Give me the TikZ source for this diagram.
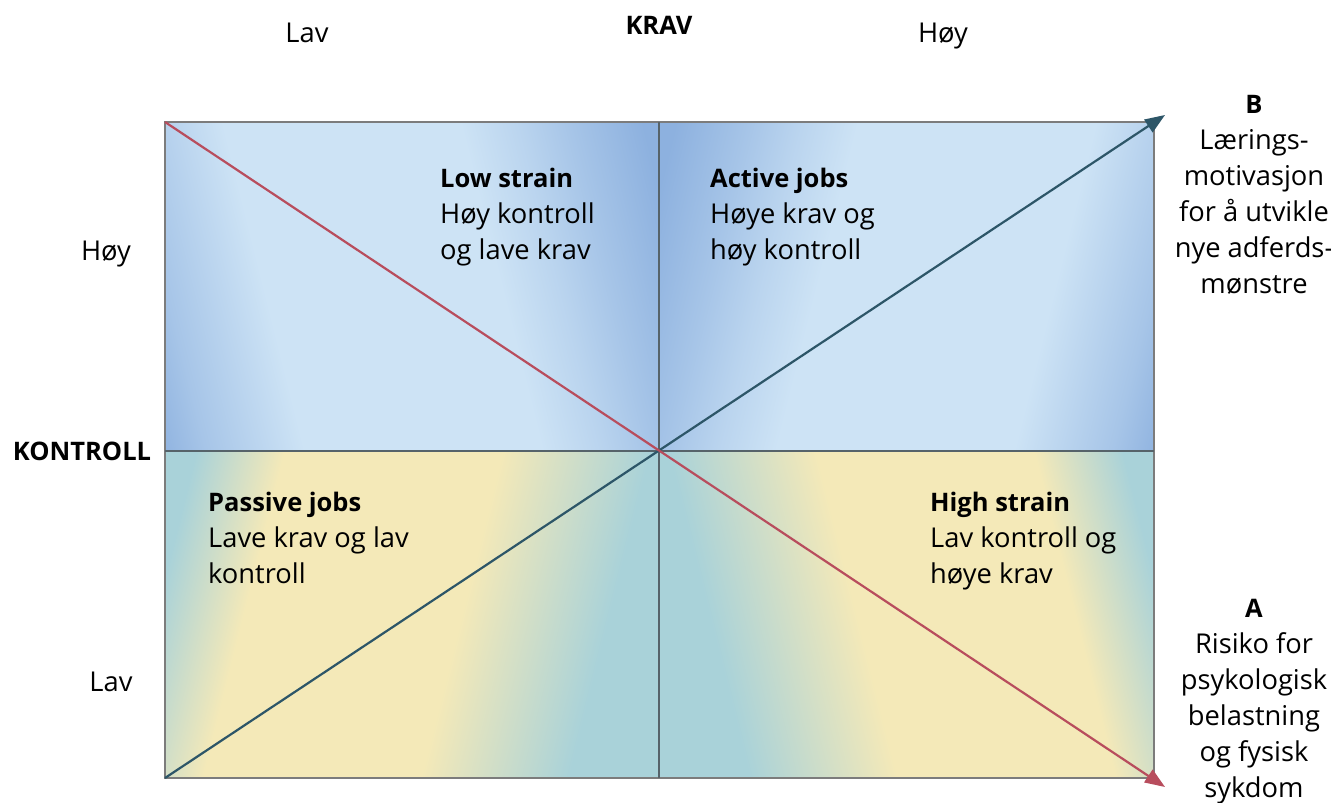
\documentclass[tikz,border=0pt]{standalone}
\usepackage{fontspec}
\setmainfont{Open Sans}
\usetikzlibrary{arrows.meta}

\definecolor{bluelight}{HTML}{CDE3F5}
\definecolor{bluedark}{HTML}{8DB1DF}
\colorlet{bluemid}{bluedark!60!bluelight}
\colorlet{bluesoft}{bluedark!30!bluelight}
\definecolor{sand}{HTML}{F4E9B8}
\definecolor{quadteal}{HTML}{A9D2D9}
\colorlet{tealmix}{quadteal!50!sand}
\definecolor{framegray}{HTML}{7C7C7C}
\definecolor{axisgray}{HTML}{56636A}
\definecolor{riskred}{HTML}{B84D5D}
\definecolor{learnblue}{HTML}{2D5668}

% Band shadings: the quadrant spans 37.5bp..62.5bp of the 100bp shading
\pgfdeclarehorizontalshading{upperband}{100bp}{%
  color(0bp)=(bluedark); color(35bp)=(bluedark); color(37.5bp)=(bluemid);
  color(42.5bp)=(bluelight); color(54.5bp)=(bluelight); color(57.5bp)=(bluesoft);
  color(60bp)=(bluemid); color(63.75bp)=(bluedark); color(100bp)=(bluedark)}
\pgfdeclarehorizontalshading{lowerband}{100bp}{%
  color(0bp)=(quadteal); color(37bp)=(quadteal); color(39.25bp)=(tealmix);
  color(41.5bp)=(sand); color(52.5bp)=(sand); color(56.25bp)=(tealmix);
  color(60bp)=(quadteal); color(100bp)=(quadteal)}

% #1,#2 quadrant centre, #3/#4 mirror factors, #5 shading, #6 half width, #7 half height
\newcommand\quadfill[7]{%
  \begin{scope}
    \clip (#1-#6,#2-#7) rectangle (#1+#6,#2+#7);
    \begin{scope}[transform canvas={shift={(#1,#2)}, xscale=#3, yscale=#4, xslant=-0.25}]
      \shade[shading=#5] (-494,-180) rectangle (494,180);
    \end{scope}
  \end{scope}}

% bold headings are set a little smaller than the body text
\newcommand\headtext[1]{{\fontsize{25.5bp}{36bp}\selectfont\bfseries #1}}

\begin{document}
\begin{tikzpicture}[x=1bp, y=-1bp,
  lbl/.style={font=\fontsize{27.3bp}{36bp}\selectfont, inner sep=0pt, text=black},
  boldlbl/.style={lbl, font=\fontsize{25.5bp}{36bp}\selectfont\bfseries},
  block/.style={lbl, align=left, anchor=base west},
  sideblock/.style={lbl, align=center, anchor=base},
  frameline/.style={draw=framegray, line width=2bp},
  axisline/.style={draw=axisgray},
  diag/.style={line width=2.2bp, -{Triangle[length=20bp, width=15bp]}}]

\useasboundingbox (0,0) rectangle (1331,802);
\fill[white] (0,0) rectangle (1331,802);

% corners, centre and arrow ends
\coordinate (TL) at (165,122);
\coordinate (TR) at (1154,122);
\coordinate (BL) at (165,778);
\coordinate (BR) at (1154,778);
\coordinate (ML) at (165,451);
\coordinate (MR) at (1154,451);
\coordinate (MT) at (659,122);
\coordinate (MB) at (659,778);
\coordinate (tipA) at (1165,787);
\coordinate (tipB) at (1165,115);

% quadrant fills
\quadfill{412}{286.5}{1}{1}{upperband}{247}{164.5}
\quadfill{906.5}{286.5}{-1}{1}{upperband}{247.5}{164.5}
\quadfill{412}{614.5}{1}{-1}{lowerband}{247}{163.5}
\quadfill{906.5}{614.5}{-1}{-1}{lowerband}{247.5}{163.5}

% frame and axes
\draw[frameline] (TL) rectangle (BR);
\draw[axisline, line width=2.4bp] (ML) -- (MR);
\draw[axisline, line width=1.5bp] (MT) -- (MB);

% diagonals
\draw[diag, learnblue] (BL) -- (tipB);
\draw[diag, riskred] (TL) -- (tipA);

% axis titles and levels
\node[boldlbl, anchor=base] (krav) at (659,35) {KRAV};
\node[lbl, anchor=base] (kravlav) at (307,43) {Lav};
\node[lbl, anchor=base] (kravhoy) at (943,43) {Høy};
\node[boldlbl, anchor=base] (kontroll) at (82,460) {KONTROLL};
\node[lbl, anchor=base] (kontrollhoy) at (106,260) {Høy};
\node[lbl, anchor=base] (kontrolllav) at (111,691) {Lav};

% quadrant descriptions (anchored at the baseline of their last line)
\node[block] (lowstrain) at (440,259) {\headtext{Low strain}\\Høy kontroll\\og lave krav};
\node[block] (active) at (710,259) {\headtext{Active jobs}\\Høye krav og\\høy kontroll};
\node[block] (passive) at (208,583) {\headtext{Passive jobs}\\Lave krav og lav\\kontroll};
\node[block] (highstrain) at (930,583) {\headtext{High strain}\\Lav kontroll og\\høye krav};

% outcome labels
\node[sideblock] (outB) at (1254,293) {\headtext{B}\\Lærings-\\motivasjon\\for å utvikle\\nye adferds-\\mønstre};
\node[sideblock] (outA) at (1254,797) {\headtext{A}\\Risiko for\\psykologisk\\belastning\\og fysisk\\sykdom};
\end{tikzpicture}
\end{document}
